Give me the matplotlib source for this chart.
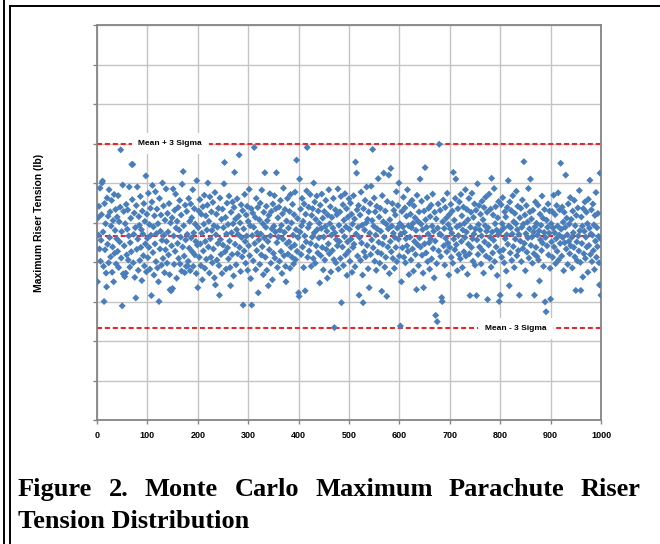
import numpy as np
from matplotlib import pyplot as plt
from matplotlib.lines import Line2D

# Monte Carlo run number (1..1000) and max riser tension
# (y units are arbitrary: gridlines every 100, the tick labels are not printed)
runs = list(range(1, 1001))
tension = [
    350, 512, 468, 541, 433, 587, 402, 455, 520, 600, 605, 476, 389, 300, 548, 431, 497, 372, 337, 562,
    445, 516, 398, 583, 462, 527, 413, 491, 556, 374, 438, 505, 350, 571, 422, 480, 533, 395, 459, 514,
    427, 568, 386, 502, 451, 539, 684, 410, 477, 289, 595, 370, 528, 441, 363, 497, 372, 546, 418, 483,
    532, 405, 466, 590, 387, 449, 511, 426, 647, 558, 647, 398, 470, 524, 361, 487, 309, 543, 432, 590,
    458, 379, 515, 493, 404, 566, 437, 482, 353, 529, 471, 416, 548, 390, 503, 446, 618, 375, 521, 460,
    411, 574, 437, 495, 382, 536, 468, 315, 552, 594, 424, 489, 367, 517, 446, 578, 401, 472, 534, 385,
    497, 350, 300, 561, 433, 478, 519, 392, 455, 600, 409, 542, 468, 373, 506, 431, 585, 452, 397, 523,
    476, 418, 548, 368, 330, 499, 327, 441, 512, 333, 585, 466, 394, 531, 427, 572, 486, 359, 503, 447,
    538, 409, 481, 556, 395, 463, 519, 377, 597, 438, 629, 492, 415, 373, 544, 456, 389, 528, 470, 390,
    402, 561, 435, 503, 378, 547, 461, 512, 426, 583, 389, 474, 535, 418, 496, 452, 371, 606, 443, 335,
    487, 529, 412, 558, 446, 391, 521, 473, 355, 540, 428, 496, 569, 384, 452, 517, 407, 481, 544, 600,
    438, 503, 372, 565, 459, 412, 527, 480, 398, 551, 433, 492, 360, 576, 342, 469, 521, 405, 488, 447,
    536, 391, 316, 562, 457, 419, 508, 371, 534, 443, 487, 598, 652, 426, 513, 382, 471, 549, 436, 495,
    408, 567, 453, 386, 340, 526, 474, 419, 552, 497, 365, 538, 627, 445, 509, 393, 482, 560, 421, 470,
    516, 671, 437, 499, 376, 545, 462, 413, 530, 291, 484, 428, 571, 452, 397, 519, 466, 541, 379, 503,
    441, 584, 416, 492, 358, 535, 291, 467, 524, 403, 488, 690, 447, 513, 381, 561, 429, 474, 538, 322,
    456, 507, 394, 549, 471, 418, 582, 439, 497, 368, 526, 461, 626, 412, 488, 541, 379, 505, 452, 340,
    518, 431, 573, 466, 397, 528, 484, 355, 547, 422, 491, 568, 410, 476, 535, 626, 449, 386, 512, 463,
    539, 402, 481, 556, 427, 493, 371, 522, 458, 587, 416, 475, 533, 389, 350, 504, 447, 561, 420, 486,
    451, 528, 384, 571, 437, 499, 412, 546, 468, 395, 520, 443, 577, 406, 482, 658, 427, 510, 462, 322,
    313, 610, 476, 534, 419, 492, 561, 438, 503, 386, 547, 466, 327, 521, 451, 580, 690, 412, 487, 539,
    428, 496, 571, 447, 389, 518, 463, 535, 409, 600, 474, 552, 397, 508, 441, 567, 482, 423, 529, 461,
    498, 347, 544, 416, 485, 572, 437, 511, 380, 463, 528, 405, 490, 556, 432, 478, 359, 519, 446, 583,
    421, 497, 540, 375, 468, 513, 429, 486, 561, 406, 234, 474, 532, 398, 457, 520, 441, 585, 382, 493,
    452, 527, 409, 566, 297, 479, 438, 545, 391, 506, 464, 573, 418, 489, 535, 366, 451, 514, 427, 560,
    483, 402, 549, 458, 521, 374, 496, 437, 568, 445, 509, 388, 653, 471, 625, 532, 415, 488, 543, 316,
    462, 519, 404, 577, 448, 493, 367, 297, 535, 426, 481, 556, 413, 499, 590, 442, 508, 383, 527, 335,
    473, 548, 419, 592, 456, 505, 685, 436, 491, 562, 402, 527, 468, 379, 541, 484, 425, 611, 450, 514,
    397, 536, 478, 421, 326, 568, 445, 502, 625, 463, 387, 529, 412, 496, 313, 553, 438, 484, 620, 371,
    507, 452, 637, 426, 491, 548, 409, 473, 531, 384, 462, 519, 437, 578, 401, 486, 543, 458, 600, 415,
    497, 238, 471, 350, 528, 436, 489, 564, 412, 475, 537, 398, 459, 516, 441, 583, 427, 492, 368, 548,
    463, 521, 405, 487, 556, 433, 498, 377, 542, 452, 512, 419, 480, 330, 569, 444, 503, 391, 527, 461,
    610, 438, 496, 554, 417, 482, 372, 335, 529, 446, 639, 507, 423, 488, 563, 401, 471, 536, 449, 382,
    515, 459, 544, 408, 491, 572, 434, 478, 360, 526, 453, 265, 509, 396, 249, 486, 547, 428, 698, 471,
    531, 414, 468, 310, 300, 502, 557, 441, 485, 392, 538, 460, 511, 426, 574, 448, 495, 367, 520, 437,
    484, 546, 412, 473, 529, 397, 627, 458, 506, 431, 561, 610, 444, 489, 378, 535, 467, 419, 552, 493,
    408, 571, 452, 517, 386, 481, 539, 426, 498, 462, 583, 415, 476, 533, 369, 507, 445, 561, 421, 315,
    488, 526, 437, 574, 459, 402, 513, 471, 547, 392, 484, 531, 315, 456, 598, 419, 495, 543, 438, 481,
    521, 395, 466, 554, 429, 507, 372, 538, 451, 492, 564, 415, 478, 526, 305, 487, 443, 572, 409, 463,
    534, 387, 612, 476, 423, 519, 455, 586, 401, 497, 540, 438, 481, 366, 512, 469, 553, 300, 427, 316,
    478, 545, 412, 497, 563, 431, 486, 398, 527, 459, 514, 377, 469, 538, 445, 606, 491, 340, 552, 423,
    487, 530, 404, 471, 568, 439, 502, 386, 523, 458, 497, 579, 416, 482, 541, 429, 470, 316, 512, 453,
    536, 401, 488, 557, 434, 496, 654, 447, 519, 378, 472, 543, 425, 501, 461, 586, 410, 484, 527, 610,
    442, 509, 463, 397, 531, 476, 421, 316, 489, 552, 437, 498, 414, 468, 544, 405, 479, 352, 521, 456,
    493, 429, 567, 448, 511, 389, 475, 533, 299, 462, 274, 506, 441, 488, 547, 418, 473, 529, 384, 306,
    497, 451, 528, 412, 486, 569, 438, 474, 520, 396, 459, 543, 427, 491, 575, 405, 468, 532, 447, 650,
    483, 415, 539, 462, 501, 378, 526, 449, 488, 620, 433, 511, 469, 394, 547, 452, 496, 421, 563, 441,
    508, 462, 385, 529, 474, 437, 556, 413, 492, 328, 518, 451, 403, 537, 466, 428, 581, 479, 399, 328,
    514, 447, 491, 362, 535, 421, 478, 552, 409, 463, 526, 438, 497, 374, 559, 442, 486, 607, 419, 471,
    532, 401, 468, 547, 429, 494, 381, 518, 453, 576, 412, 487, 439, 523, 465, 398, 342, 625, 459, 316,
]
mean_val = 466
upper_val = 700   # mean + 3 sigma
lower_val = 232   # mean - 3 sigma

x_ticks = list(range(0, 1001, 100))
caption1 = "Figure 2. Monte Carlo Maximum Parachute Riser"
caption2 = "Tension Distribution"

W, H = 660, 544
fig = plt.figure(figsize=(W / 100, H / 100), dpi=100)
fig.patch.set_facecolor("white")

ax = fig.add_axes([97 / W, 1 - 420 / H, (601 - 97) / W, (420 - 25) / H])
ax.set_xlim(0, 1000)
ax.set_ylim(0, 1000)
ax.set_xticks(x_ticks)
ax.set_yticks(range(0, 1001, 100))
ax.set_yticklabels([])
ax.grid(True, color="#c4c4c4", linewidth=1.0)
ax.set_axisbelow(True)
for s in ax.spines.values():
    s.set_color("#858585")
    s.set_linewidth(1.3)
ax.tick_params(axis="both", direction="out", length=3, color="#858585", width=1)
ax.tick_params(axis="x", pad=5)
for lab in ax.get_xticklabels():
    lab.set_fontsize(6.5)
    lab.set_fontweight("bold")
    lab.set_family("Liberation Sans")

red = "#e8262b"
for yv in (mean_val, upper_val, lower_val):
    ax.axhline(yv, color=red, linewidth=1.5, dashes=(2.4, 1.4), zorder=2)

ax.scatter(runs, tension, marker="D", s=13, color="#4a7ebb", edgecolors="none", zorder=3)

box = dict(boxstyle="square,pad=0.8", facecolor="white", edgecolor="none")
ax.text(145, upper_val, "Mean + 3 Sigma", fontsize=6, fontweight="bold", family="Liberation Sans",
        ha="center", va="center", bbox=box, zorder=4)
ax.text(831, lower_val, "Mean - 3 Sigma", fontsize=6, fontweight="bold", family="Liberation Sans",
        ha="center", va="center", bbox=box, zorder=4)

ax.set_ylabel("Maximum Riser Tension (lb)", fontsize=7.5, fontweight="bold", family="Liberation Sans")
ax.yaxis.set_label_coords((44 - 97) / 504, 0.5)

# page frame (double line on the left)
fig.add_artist(Line2D([3.5 / W, 3.5 / W], [0, 1], color="black", linewidth=1.4, transform=fig.transFigure))
fig.add_artist(Line2D([9.5 / W, 9.5 / W], [0, 1 - 6 / H], color="black", linewidth=1.4, transform=fig.transFigure))
fig.add_artist(Line2D([9.5 / W, 1], [1 - 6 / H, 1 - 6 / H], color="black", linewidth=1.4, transform=fig.transFigure))

# caption, first line justified between x=18 and x=641
cap_font = dict(fontsize=19, fontweight="bold", family="Liberation Serif", va="baseline")
words = caption1.split()
txts = [fig.text(0, 1 - 496 / H, w, **cap_font) for w in words]
fig.canvas.draw()
r = fig.canvas.get_renderer()
widths = [t.get_window_extent(r).width for t in txts]
left, right = 18, 641
gap = (right - left - sum(widths)) / (len(words) - 1)
xpos = left
for t, wdt in zip(txts, widths):
    t.set_x(xpos / W)
    xpos += wdt + gap
fig.text(18 / W, 1 - 528 / H, caption2, **cap_font)

plt.savefig("out.png", dpi=100)
plt.close()
